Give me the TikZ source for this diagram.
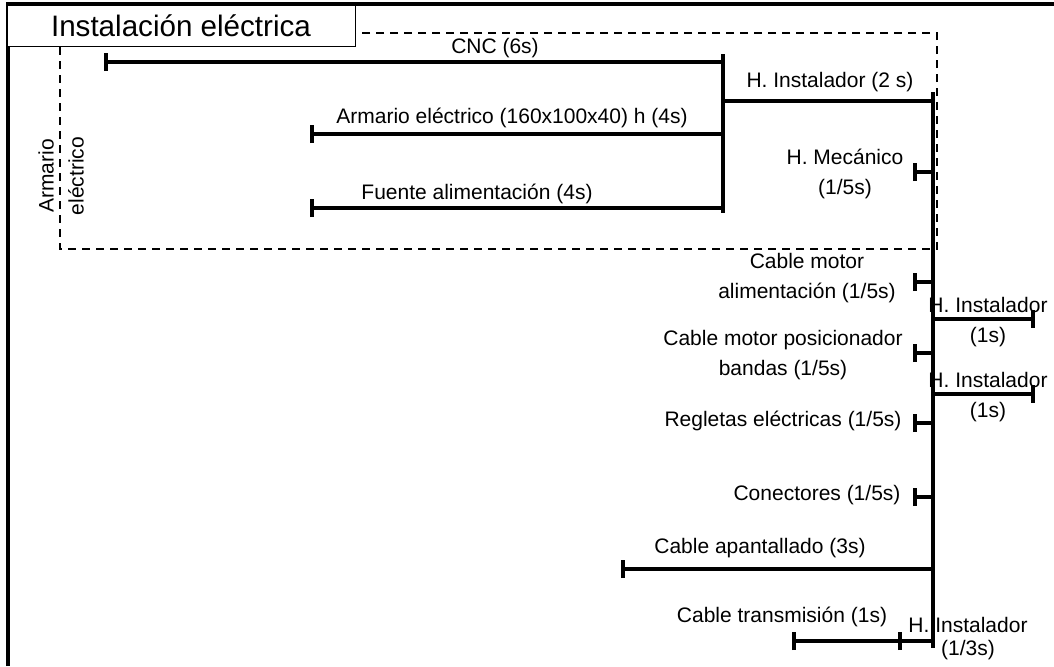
\documentclass[tikz,border=0pt]{standalone}
\usepackage{fontspec}
\setmainfont{Liberation Sans}
\usetikzlibrary{arrows.meta}

\tikzset{
  linea/.style={line width=1.8pt},
  rama/.style={line width=1.8pt, {Bar[width=9pt]}-},
  marco/.style={line width=1.7pt},
  grupo/.style={dashed, line width=0.9pt, dash pattern=on 4pt off 3pt},
  titulo/.style={draw, fill=white, line width=0.5pt, inner sep=0pt,
    minimum width=174pt, minimum height=20.5pt, font=\fontsize{14.8}{17}\selectfont},
  etiqueta/.style={inner sep=0pt, align=center, font=\fontsize{10.5}{15}\selectfont}
}

\begin{document}
\begin{tikzpicture}[x=0.5pt, y=-0.5pt]
  \useasboundingbox (0,0) rectangle (1054,666);

  % marco exterior y grupo del armario
  \coordinate (fa) at (8,666);
  \coordinate (fb) at (8,4);
  \coordinate (fc) at (1054,4);
  \draw[marco] (fa) -- (fb) -- (fc);
  \coordinate (ga) at (60,33);
  \coordinate (gb) at (937,249);
  \draw[grupo] (ga) rectangle (gb);
  \node[titulo] (tit) at (181,25.5) {Instalación eléctrica};
  \node[etiqueta, rotate=90] (larm) at (61,176) {Armario\\eléctrico};

  % subconjunto armario
  \coordinate (cnc) at (104,62);
  \coordinate (cncj) at (723,62);
  \coordinate (arm) at (310,134);
  \coordinate (armj) at (723,134);
  \coordinate (fue) at (310,208);
  \coordinate (fuej) at (723,208);
  \coordinate (v1a) at (723,54);
  \coordinate (v1b) at (723,213);
  \coordinate (hi1j) at (933,101);
  \coordinate (hi1) at (723,101);

  \draw[linea] (v1a) -- (v1b);
  \draw[rama] (cnc) -- (cncj);
  \draw[rama] (arm) -- (armj);
  \draw[rama] (fue) -- (fuej);
  \draw[linea] (hi1) -- (hi1j);

  \node[etiqueta] (lcnc) at (495,48) {CNC (6s)};
  \node[etiqueta] (larmario) at (512,118) {Armario eléctrico (160x100x40) h (4s)};
  \node[etiqueta] (lfue) at (477,194) {Fuente alimentación (4s)};
  \node[etiqueta] (lhi1) at (830,82) {H. Instalador (2 s)};

  % linea principal
  \coordinate (ma) at (933,92);
  \coordinate (mb) at (933,648);
  \draw[linea] (ma) -- (mb);

  \coordinate (mec) at (913,172);   \coordinate (mecj) at (933,172);
  \coordinate (cma) at (913,282);   \coordinate (cmaj) at (933,282);
  \coordinate (hi2) at (1035,319);  \coordinate (hi2j) at (933,319);
  \coordinate (cmp) at (913,353);   \coordinate (cmpj) at (933,353);
  \coordinate (hi3) at (1035,394);  \coordinate (hi3j) at (933,394);
  \coordinate (reg) at (913,423);   \coordinate (regj) at (933,423);
  \coordinate (con) at (913,497);   \coordinate (conj) at (933,497);
  \coordinate (apa) at (621,569);   \coordinate (apaj) at (933,569);
  \coordinate (tra) at (792,641);   \coordinate (hi4) at (898,641);
  \coordinate (traj) at (933,641);

  \draw[rama] (mec) -- (mecj);
  \draw[rama] (cma) -- (cmaj);
  \draw[rama] (hi2) -- (hi2j);
  \draw[rama] (cmp) -- (cmpj);
  \draw[rama] (hi3) -- (hi3j);
  \draw[rama] (reg) -- (regj);
  \draw[rama] (con) -- (conj);
  \draw[rama] (apa) -- (apaj);
  \draw[rama] (tra) -- (hi4);
  \draw[rama] (hi4) -- (traj);

  \node[etiqueta] (lmec) at (845,174) {H. Mecánico\\(1/5s)};
  \node[etiqueta] (lcma) at (807,278) {Cable motor\\alimentación (1/5s)};
  \node[etiqueta] (lhi2) at (988,322) {H. Instalador\\(1s)};
  \node[etiqueta] (lcmp) at (783,355) {Cable motor posicionador\\bandas (1/5s)};
  \node[etiqueta] (lhi3) at (988,397) {H. Instalador\\(1s)};
  \node[etiqueta] (lreg) at (783,421) {Regletas eléctricas (1/5s)};
  \node[etiqueta] (lcon) at (817,495) {Conectores (1/5s)};
  \node[etiqueta] (lapa) at (760,548) {Cable apantallado (3s)};
  \node[etiqueta] (ltra) at (782,617) {Cable transmisión (1s)};
  \node[etiqueta] (lhi4) at (968,639) {H. Instalador\\[-3.5pt](1/3s)};
\end{tikzpicture}
\end{document}
